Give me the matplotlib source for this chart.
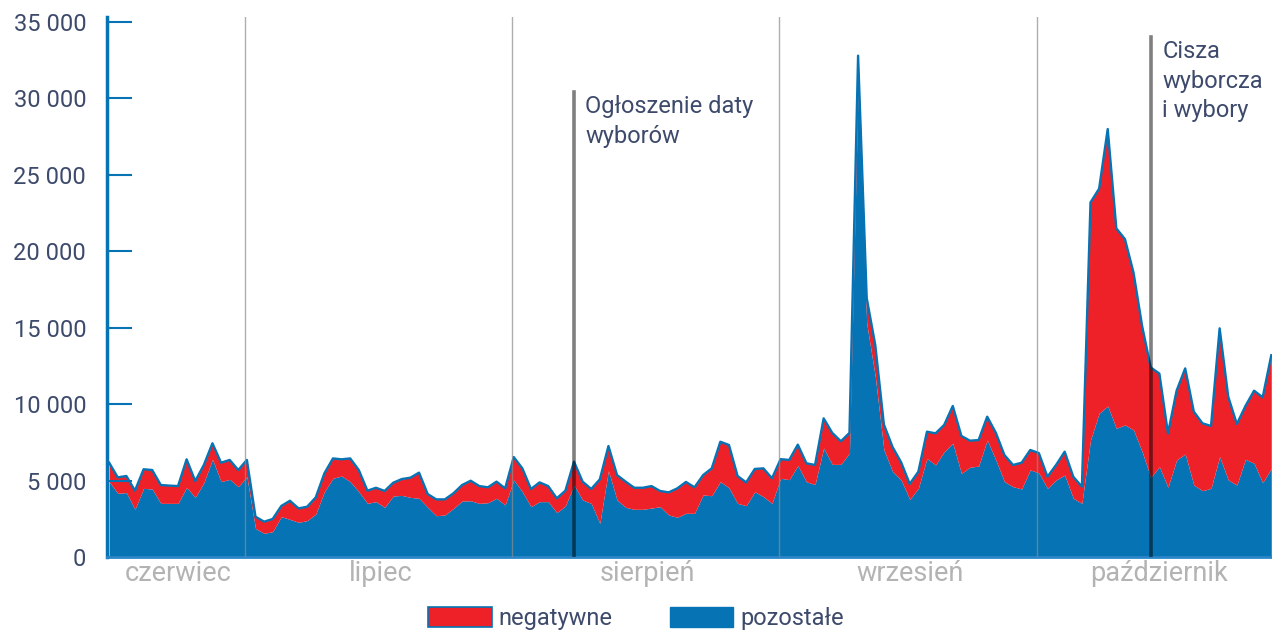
import matplotlib
matplotlib.use("Agg")
import matplotlib.pyplot as plt
from matplotlib.patches import Patch
from matplotlib.ticker import FuncFormatter
import numpy as np
import pandas as pd

plt.rcParams['font.family'] = ['Roboto', 'DejaVu Sans']

# dzienne liczby wpisów, 15 czerwca - 28 października
dni = pd.date_range('2023-06-15', '2023-10-28', freq='D')

# suma (negatywne + pozostałe)
razem = [6170, 5210, 5300, 4340, 5740, 5690, 4710, 4670, 4640, 6390,
         4970, 6020, 7440, 6170, 6350, 5690, 6350, 2640, 2310, 2490,
         3340, 3680, 3180, 3290, 3900, 5470, 6450, 6390, 6450, 5690,
         4340, 4530, 4320, 4860, 5100, 5190, 5520, 4120, 3770, 3770,
         4170, 4710, 4990, 4640, 4560, 4930, 4490, 6540, 5800, 4450,
         4880, 4640, 3840, 4340, 6240, 4930, 4450, 5080, 7260, 5360,
         4930, 4530, 4530, 4640, 4320, 4230, 4490, 4910, 4560, 5360,
         5800, 7540, 7330, 5300, 4880, 5760, 5800, 5150, 6400, 6350,
         7350, 6130, 6020, 9070, 8120, 7570, 8120, 32800, 16950, 13860,
         8670, 7200, 6200, 4780, 5580, 8200, 8090, 8640, 9880, 7920,
         7610, 7650, 9180, 8130, 6670, 6020, 6170, 7000, 6800, 5250,
         6020, 6890, 5250, 4600, 23200, 24100, 28000, 21500, 20800, 18600,
         15100, 12400, 12000, 8090, 10880, 12340, 9510, 8750, 8570, 14960,
         10490, 8700, 9880, 10880, 10450, 13200]

pozostale = [4930, 4170, 4210, 3120, 4490, 4450, 3510, 3510, 3510, 4560,
             3900, 4860, 6390, 4930, 5080, 4600, 5250, 1870, 1550, 1660,
             2640, 2460, 2270, 2380, 2810, 4270, 5150, 5300, 4930, 4270,
             3510, 3620, 3250, 3990, 4030, 3900, 3840, 3250, 2700, 2750,
             3180, 3660, 3680, 3510, 3550, 3840, 3400, 5040, 4270, 3290,
             3620, 3620, 2900, 3340, 4710, 3730, 3510, 2200, 5650, 3730,
             3250, 3120, 3120, 3200, 3290, 2750, 2600, 2860, 2860, 4060,
             4010, 4930, 4530, 3510, 3360, 4270, 3950, 3510, 5150, 5060,
             5980, 4920, 4740, 7120, 6060, 6060, 6800, 30700, 15300, 11800,
             7010, 5600, 5040, 3770, 4490, 6450, 6020, 6890, 7440, 5470,
             5870, 5950, 7650, 6350, 4930, 4600, 4450, 5700, 5500, 4490,
             5040, 5360, 3840, 3510, 7650, 9400, 9880, 8420, 8640, 8310,
             6890, 5200, 5910, 4560, 6350, 6740, 4710, 4340, 4490, 6560,
             5040, 4710, 6390, 6130, 4860, 5800]

miesiace = ['czerwiec', 'lipiec', 'sierpień', 'wrzesień', 'październik']
granice = ['2023-06-15', '2023-07-01', '2023-08-01', '2023-09-01', '2023-10-01', '2023-10-29']

wydarzenia = ['Ogłoszenie daty\nwyborów', 'Cisza\nwyborcza\ni wybory']
daty_wydarzen = ['2023-08-08', '2023-10-14']
wysokosc_wydarzen = [30400, 34000]

niebieski = '#0673b4'
czerwony = '#ee2129'
tekst = '#3d4a6b'

fig = plt.figure(figsize=(12.72, 6.30), dpi=100)
ax = fig.add_axes([107 / 1272, 73 / 630, 1165 / 1272, 540 / 630])

ax.fill_between(dni, 0, pozostale, color=niebieski, linewidth=0)
ax.fill_between(dni, pozostale, razem, color=czerwony, linewidth=0)
ax.plot(dni, razem, color=niebieski, linewidth=1.7)

# linie miesięcy
for g in granice[1:-1]:
    ax.axvline(pd.Timestamp(g) - pd.Timedelta(hours=5), color='#8c8c8c',
               alpha=0.7, linewidth=1, zorder=3)

# wydarzenia
for nazwa, d, h in zip(wydarzenia, daty_wydarzen, wysokosc_wydarzen):
    t = pd.Timestamp(d)
    ax.plot([t, t], [0, h], color='black', alpha=0.5, linewidth=2.6, zorder=4)
    ax.text(t + pd.Timedelta(hours=32), h - 200, nazwa, color=tekst, fontsize=17,
            va='top', ha='left', linespacing=1.35)

# podpisy miesięcy
for m, a, b in zip(miesiace, granice[:-1], granice[1:]):
    srodek = pd.Timestamp(a) + (pd.Timestamp(b) - pd.Timestamp(a)) / 2
    ax.text(srodek, -0.03, m, transform=ax.get_xaxis_transform(),
            ha='center', va='center', color='#b3b3b3', fontsize=19.5)

ax.set_xlim(dni[0] - pd.Timedelta(hours=6), dni[-1] + pd.Timedelta(hours=2))
ax.set_ylim(0, 35330)
ax.set_yticks(np.arange(0, 35001, 5000))
ax.yaxis.set_major_formatter(FuncFormatter(lambda v, p: f'{int(v):,}'.replace(',', ' ')))
ax.tick_params(axis='y', direction='in', length=18, width=1.5, color=niebieski,
               labelcolor=tekst, labelsize=17, pad=15)
ax.set_xticks([])

for s in ['top', 'right']:
    ax.spines[s].set_visible(False)
ax.spines['left'].set_color(niebieski)
ax.spines['left'].set_linewidth(2.5)
ax.spines['bottom'].set_color('#2a86c8')
ax.spines['bottom'].set_linewidth(2)

uchwyty = [Patch(facecolor=czerwony, edgecolor=niebieski, linewidth=1.2, label='negatywne'),
           Patch(facecolor=niebieski, edgecolor=niebieski, label='pozostałe')]
fig.legend(handles=uchwyty, loc='center', bbox_to_anchor=(0.5, 0.018), ncol=2,
           frameon=False, fontsize=17, labelcolor=tekst, handlelength=2.7,
           handleheight=0.95, columnspacing=2.4, handletextpad=0.3)

fig.savefig('out.png', dpi=100)
